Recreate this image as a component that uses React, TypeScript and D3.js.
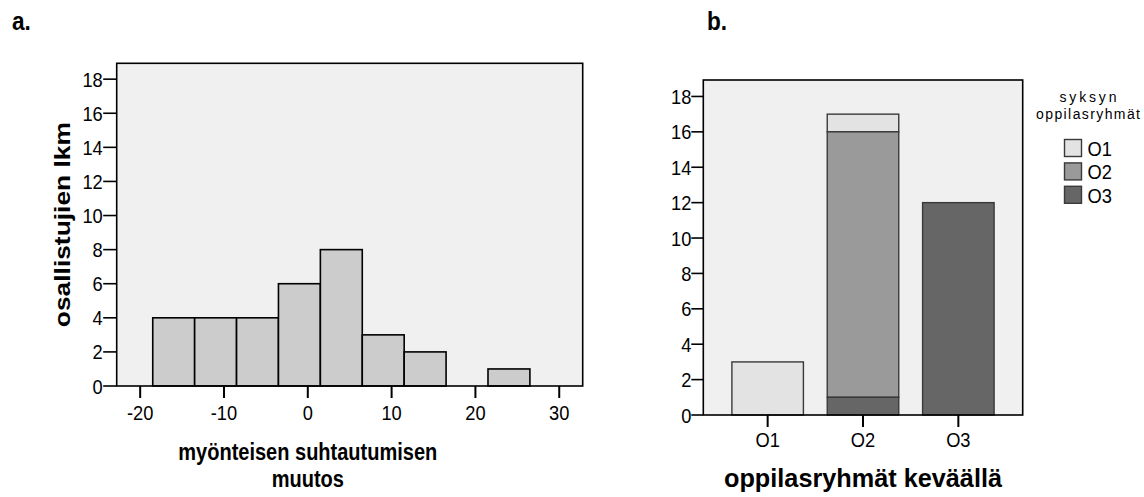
import React from 'react';
import * as d3 from 'd3';

// Histogram of change in positive attitude (panel a)
const binStarts = [-18.5, -13.5, -8.5, -3.5, 1.5, 6.5, 11.5, 16.5, 21.5];
const binCounts = [4, 4, 4, 6, 8, 3, 2, 0, 1];
const binWidth = 5;
const histXTicks = [-20, -10, 0, 10, 20, 30];
const countTicks = [0, 2, 4, 6, 8, 10, 12, 14, 16, 18];

// Spring groups (x categories) stacked by autumn group (panel b)
const springGroups = ['O1', 'O2', 'O3'];
const autumnGroups = ['O1', 'O2', 'O3'];
const autumnO1 = [3, 1, 0];
const autumnO2 = [0, 15, 0];
const autumnO3 = [0, 1, 12];

const groupColors: Record<string, string> = { O1: '#e3e3e3', O2: '#9a9a9a', O3: '#666666' };

const FONT = 'Arial, "Liberation Sans", sans-serif';
const Y_MAX = 18.93;
const SQUEEZE = 0.87; // narrow glyph proportions of the exported graphics

type SqProps = {
  x: number;
  y: number;
  size: number;
  anchor?: 'start' | 'middle' | 'end';
  bold?: boolean;
  dy?: string;
  length?: number;
  adjust?: 'spacing' | 'spacingAndGlyphs';
  squeeze?: number;
  children: React.ReactNode;
};

// Horizontally condensed text label
function SqText({ x, y, size, anchor = 'start', bold, dy, length, adjust = 'spacing', squeeze = SQUEEZE, children }: SqProps) {
  return (
    <g transform={`translate(${x},${y}) scale(${squeeze},1)`}>
      <text
        x={0}
        y={0}
        dy={dy}
        textAnchor={anchor}
        fontSize={size}
        fontWeight={bold ? 'bold' : 'normal'}
        textLength={length ? length / squeeze : undefined}
        lengthAdjust={length ? adjust : undefined}
      >
        {children}
      </text>
    </g>
  );
}

export default function App() {
  // panel a scales
  const xH = d3.scaleLinear().domain([-22.8, 32.8]).range([116.7, 582.7]);
  const yH = d3.scaleLinear().domain([0, Y_MAX]).range([386, 63.3]);

  // panel b scales
  const xB = d3.scaleBand<string>().domain(springGroups).range([703.3, 1022.7]).paddingInner(0.25).paddingOuter(0.3);
  const yB = d3.scaleLinear().domain([0, Y_MAX]).range([415, 80]);

  const rows = springGroups.map((g, i) => ({ group: g, O1: autumnO1[i], O2: autumnO2[i], O3: autumnO3[i] }));
  const stacked = d3.stack<any>().keys(autumnGroups).order(d3.stackOrderReverse)(rows);

  const [hx0, hx1] = xH.range();
  const [hy0, hy1] = yH.range();
  const [bx0, bx1] = xB.range();
  const [by0, by1] = yB.range();
  const bandMid = (g: string) => (xB(g) ?? 0) + xB.bandwidth() / 2;

  return (
    <svg width={1144} height={497} style={{ position: 'absolute', left: 0, top: 0, background: '#fff' }} fontFamily={FONT}>
      {/* panel labels */}
      <SqText x={12} y={30} size={26} bold>a.</SqText>
      <SqText x={707} y={30} size={26} bold>b.</SqText>

      {/* ---------- panel a ---------- */}
      <rect x={hx0} y={hy1} width={hx1 - hx0} height={hy0 - hy1} fill="#f0f0f0" />
      {binStarts.map((s, i) =>
        binCounts[i] > 0 ? (
          <rect
            key={i}
            x={xH(s)}
            y={yH(binCounts[i])}
            width={xH(s + binWidth) - xH(s)}
            height={yH(0) - yH(binCounts[i])}
            fill="#cccccc"
            stroke="#000"
            strokeWidth={1.6}
          />
        ) : null
      )}
      <rect x={hx0} y={hy1} width={hx1 - hx0} height={hy0 - hy1} fill="none" stroke="#000" strokeWidth={1.6} />
      {countTicks.map((t) => (
        <g key={t}>
          <line x1={hx0 - 13.5} x2={hx0} y1={yH(t)} y2={yH(t)} stroke="#000" strokeWidth={1.6} />
          <SqText x={hx0 - 14} y={yH(t)} dy="0.36em" anchor="end" size={21}>{t}</SqText>
        </g>
      ))}
      {histXTicks.map((t) => (
        <g key={t}>
          <line x1={xH(t)} x2={xH(t)} y1={hy0} y2={hy0 + 12} stroke="#000" strokeWidth={2} />
          <SqText x={xH(t)} y={hy0 + 34} anchor="middle" size={21}>{t}</SqText>
        </g>
      ))}
      <g transform={`translate(70, ${(hy0 + hy1) / 2}) scale(${SQUEEZE},1) rotate(-90)`}>
        <text textAnchor="middle" fontSize={26} fontWeight="bold" textLength={205} lengthAdjust="spacingAndGlyphs">
          osallistujien lkm
        </text>
      </g>
      <SqText x={xH(0)} y={460} anchor="middle" size={23} bold>myönteisen suhtautumisen</SqText>
      <SqText x={xH(0)} y={487} anchor="middle" size={23} bold>muutos</SqText>

      {/* ---------- panel b ---------- */}
      <rect x={bx0} y={by1} width={bx1 - bx0} height={by0 - by1} fill="#f0f0f0" />
      {stacked.map((layer) =>
        layer.map((d, i) =>
          d[1] - d[0] > 0 ? (
            <rect
              key={layer.key + i}
              x={xB(springGroups[i])}
              y={yB(d[1])}
              width={xB.bandwidth()}
              height={yB(d[0]) - yB(d[1])}
              fill={groupColors[layer.key]}
              stroke="#3a3a3a"
              strokeWidth={1.4}
            />
          ) : null
        )
      )}
      <rect x={bx0} y={by1} width={bx1 - bx0} height={by0 - by1} fill="none" stroke="#000" strokeWidth={1.6} />
      {countTicks.map((t) => (
        <g key={t}>
          <line x1={bx0 - 12} x2={bx0} y1={yB(t)} y2={yB(t)} stroke="#000" strokeWidth={1.6} />
          <SqText x={bx0 - 12} y={yB(t)} dy="0.36em" anchor="end" size={21}>{t}</SqText>
        </g>
      ))}
      {springGroups.map((g) => (
        <g key={g}>
          <line x1={bandMid(g)} x2={bandMid(g)} y1={by0} y2={by0 + 12} stroke="#000" strokeWidth={2} />
          <SqText x={bandMid(g)} y={by0 + 32} anchor="middle" size={21}>{g}</SqText>
        </g>
      ))}
      <SqText x={bandMid('O2')} y={487} anchor="middle" size={25} bold length={278} adjust="spacingAndGlyphs">
        oppilasryhmät keväällä
      </SqText>

      {/* legend */}
      <SqText x={1088} y={102} anchor="middle" size={14} length={57} squeeze={1}>syksyn</SqText>
      <SqText x={1088} y={119} anchor="middle" size={14} length={104} squeeze={1}>oppilasryhmät</SqText>
      {autumnGroups.map((g, i) => (
        <g key={g} transform={`translate(1064.5, ${139.5 + i * 23.4})`}>
          <rect width={17} height={17} fill={groupColors[g]} stroke="#3a3a3a" strokeWidth={1.4} />
          <SqText x={23} y={16.5} size={21}>{g}</SqText>
        </g>
      ))}
    </svg>
  );
}
